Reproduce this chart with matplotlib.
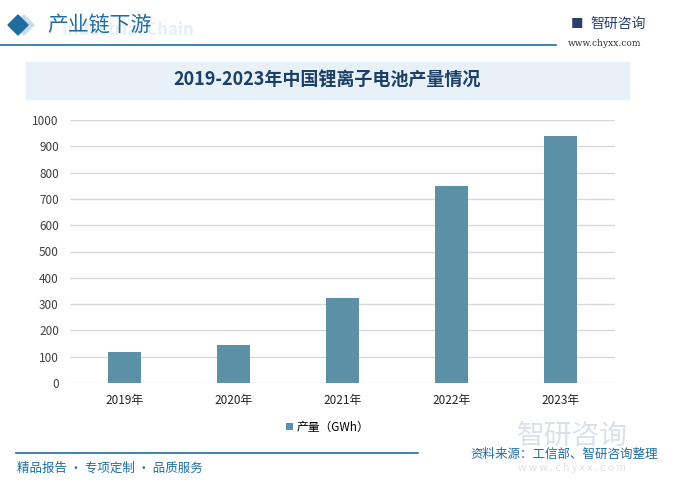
import matplotlib.pyplot as plt
from matplotlib.patches import Rectangle, Polygon

plt.rcParams['font.family'] = ['Noto Sans CJK SC', 'DejaVu Sans']

years = ['2019年', '2020年', '2021年', '2022年', '2023年']
output_gwh = [117, 143, 324, 750, 940]
yticks = [0, 100, 200, 300, 400, 500, 600, 700, 800, 900, 1000]

W, H = 675, 491
blue = '#1F6CA0'
bar_color = '#5B90A6'

fig = plt.figure(figsize=(W / 100, H / 100), dpi=100)

def fx(px):
    return px / W

def fy(py):
    return 1 - py / H

# header
fig.patches.append(Polygon([[fx(14), fy(25)], [fx(24), fy(15)], [fx(34), fy(25)], [fx(24), fy(35)]],
                           closed=True, transform=fig.transFigure, color='#C9DDEB', zorder=1))
fig.patches.append(Polygon([[fx(8), fy(25)], [fx(18), fy(15)], [fx(28), fy(25)], [fx(18), fy(35)]],
                           closed=True, transform=fig.transFigure, color=blue, zorder=2))
fig.text(fx(62), fy(30), 'Industrial Chain', fontsize=12, color='#E4EFF7', fontweight='bold',
         ha='left', va='center', zorder=1)
fig.text(fx(47), fy(25), '产业链下游', fontsize=15, color=blue, ha='left', va='center', zorder=2)
fig.add_artist(plt.Line2D([fx(0), fx(556)], [fy(45), fy(45)], color=blue, lw=1.2))
fig.text(fx(590), fy(24), '智研咨询', fontsize=10, color='#2A3F6B', ha='left', va='center')
fig.text(fx(583), fy(24), '■', fontsize=9, color='#2A3F6B', ha='right', va='center')
fig.text(fx(605), fy(44), 'www.chyxx.com', fontsize=6.5, color='#333333', family='DejaVu Serif',
         ha='center', va='center')

# title banner
fig.patches.append(Rectangle((fx(26), fy(99)), fx(629) - fx(26), fy(62) - fy(99),
                             transform=fig.transFigure, color='#E8F1F8', zorder=0))
fig.text(fx(327), fy(80), '2019-2023年中国锂离子电池产量情况', fontsize=13, color='#1B3F66',
         fontweight='bold', ha='center', va='center')

# chart
ax = fig.add_axes([fx(70), fy(383), fx(615) - fx(70), fy(120) - fy(383)])
ax.set_facecolor('none')
x = range(len(years))
ax.bar(x, output_gwh, width=0.31, color=bar_color, zorder=3, label='产量（GWh）')
ax.set_xlim(-0.5, len(years) - 0.5)
ax.set_ylim(0, 1000)
ax.set_yticks(yticks)
ax.set_xticks(list(x))
ax.set_xticklabels(years)
ax.grid(axis='y', color='#D9D9D9', lw=1, zorder=0)
for s in ax.spines.values():
    s.set_visible(False)
ax.tick_params(length=0)
ax.tick_params(axis='y', labelsize=8.5, labelcolor='#404040', pad=8)
ax.tick_params(axis='x', labelsize=8.5, labelcolor='#222222', pad=8)
leg = fig.legend(loc='center', bbox_to_anchor=(fx(328), fy(427)), frameon=False, fontsize=8.5,
                 handlelength=0.6, handleheight=0.6, handletextpad=0.3)

# footer
fig.add_artist(plt.Line2D([fx(16), fx(418)], [fy(453), fy(453)], color=blue, lw=1.2))
fig.text(fx(17), fy(468), '精品报告 · 专项定制 · 品质服务', fontsize=9, color=blue, ha='left', va='center')
fig.text(fx(572), fy(436), '智研咨询', fontsize=20, color='#DCE1E8', ha='center', va='center', zorder=1)
fig.text(fx(572), fy(468), 'w w w . c h y x x . c o m', fontsize=7.5, color='#DCE1E8', ha='center',
         va='center', zorder=1)
fig.text(fx(658), fy(454), '资料来源：工信部、智研咨询整理', fontsize=9, color=blue, ha='right',
         va='center', zorder=3)

fig.savefig('out.png', dpi=100)
